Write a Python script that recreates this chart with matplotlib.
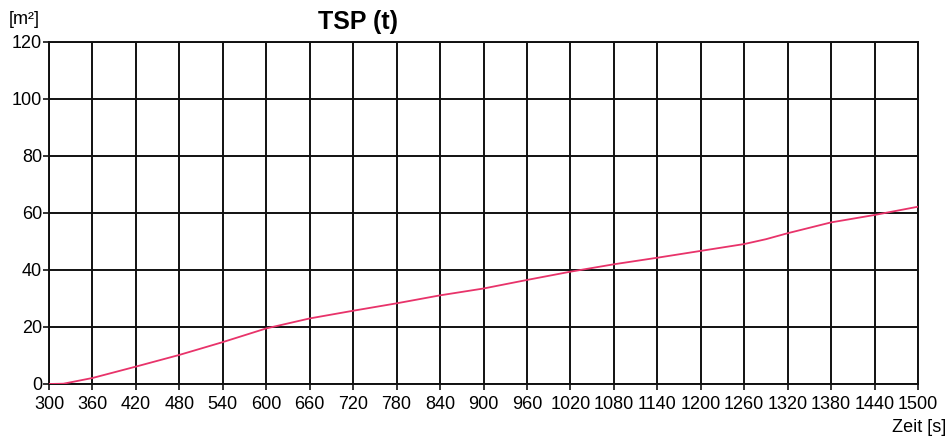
import matplotlib
matplotlib.use("Agg")
import matplotlib.pyplot as plt
import numpy as np

# time [s] and TSP [m²]
zeit = [300, 320, 360, 420, 480, 540, 600, 660, 720, 780, 840, 900, 960,
        1020, 1080, 1140, 1200, 1260, 1290, 1320, 1380, 1440, 1500]
tsp = [0.0, 0.1, 2.1, 6.1, 10.2, 14.7, 19.5, 23.0, 25.7, 28.3, 31.1, 33.5, 36.5,
       39.4, 42.0, 44.3, 46.7, 49.1, 50.8, 52.9, 56.7, 59.3, 62.2]

x_ticks = list(range(300, 1501, 60))
y_ticks = [0, 20, 40, 60, 80, 100, 120]


def main():
    plt.rcParams["font.family"] = ["Liberation Sans", "DejaVu Sans"]

    fig = plt.figure(figsize=(9.52, 4.41), dpi=100)
    ax = fig.add_axes([0.0515, 0.1293, 0.9128, 0.7755])

    ax.plot(zeit, tsp, color="#e8336a", lw=1.3, zorder=3)

    ax.set_xlim(300, 1500)
    ax.set_ylim(0, 120)
    ax.set_xticks(x_ticks)
    ax.set_yticks(y_ticks)
    ax.grid(True, color="#111111", lw=1.4)
    ax.set_axisbelow(True)
    for sp in ax.spines.values():
        sp.set_color("#111111")
        sp.set_linewidth(1.4)
    ax.tick_params(direction="out", length=4, width=1.2, color="#111111",
                   labelsize=13)
    ax.tick_params(axis="x", pad=5)
    ax.tick_params(axis="y", pad=1)

    fig.text(358 / 952, 1 - 22 / 441, "TSP (t)", fontsize=18, fontweight="bold",
             ha="center", va="center")
    fig.text(9 / 952, 1 - 20 / 441, "[m²]", fontsize=13, ha="left", va="center")
    fig.text(946 / 952, 1 - 428 / 441, "Zeit [s]", fontsize=13, ha="right", va="center")

    fig.savefig("out.png", dpi=100)


if __name__ == '__main__':
    main()
